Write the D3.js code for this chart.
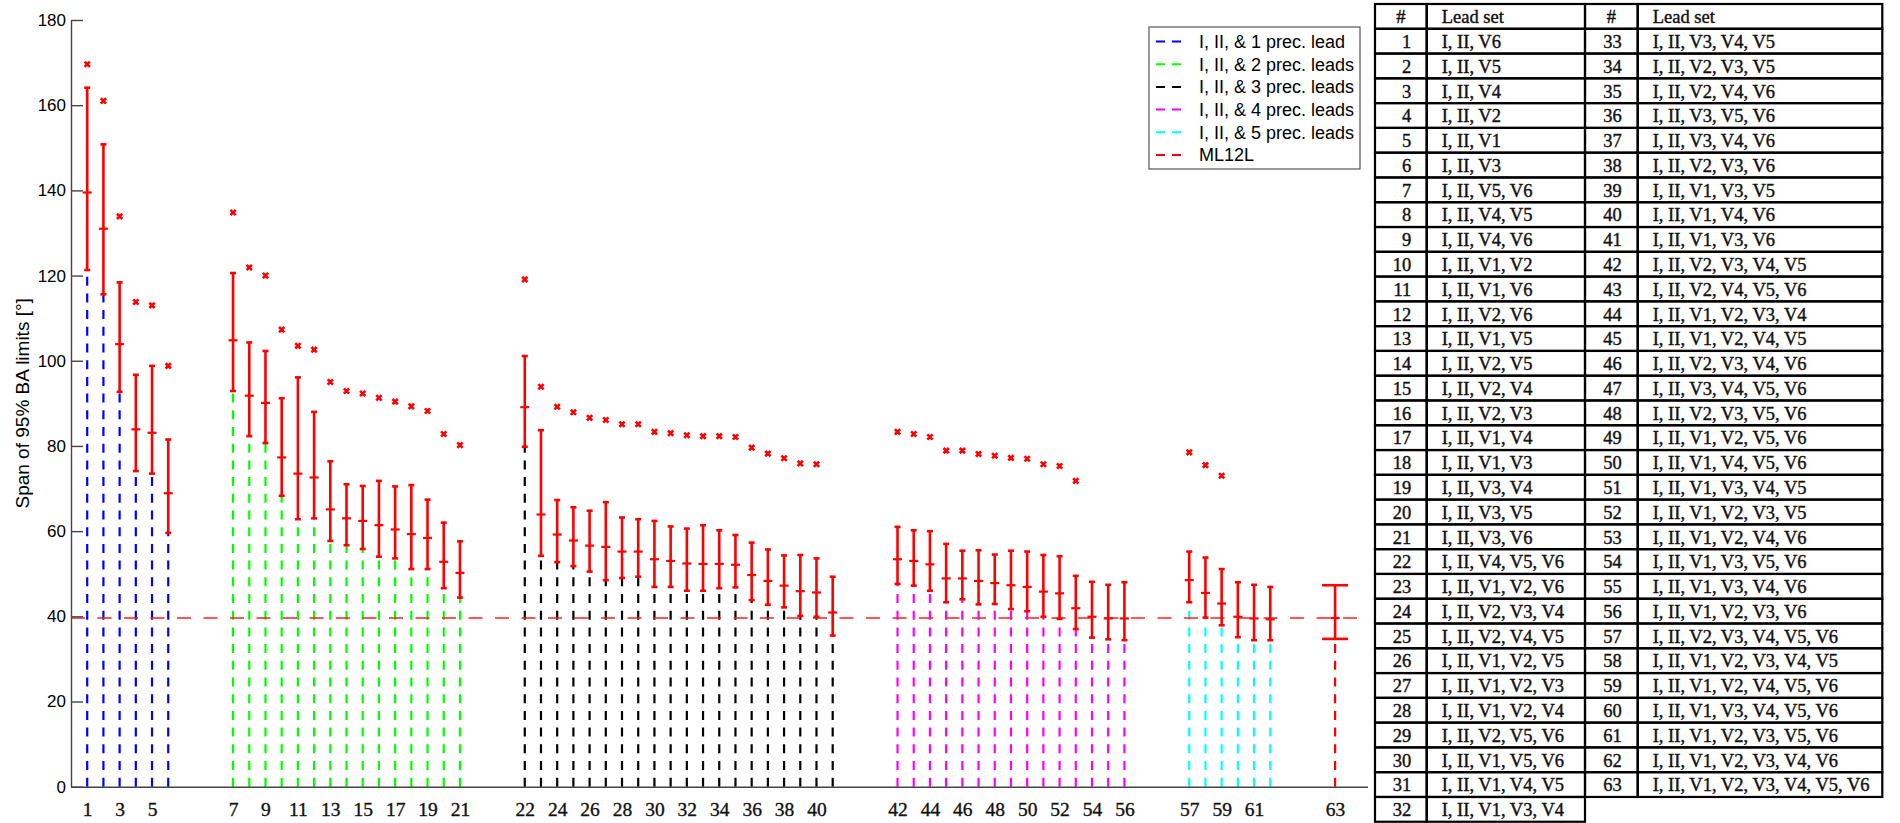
<!DOCTYPE html>
<html lang="en">
<head>
<meta charset="UTF-8" />
<title>Span of 95% BA limits by lead set</title>
<script src="https://d3js.org/d3.v7.min.js"></script>
<style>
  body { margin: 0; background: #fff; }
  svg { display: block; }
</style>
</head>
<body>

<svg width="1900" height="823"></svg>

<script>
// lead sets are grouped by how many precordial leads go with I and II
const groupSizes  = [6, 15, 20, 15, 6, 1];
const groupNames  = ["I, II, & 1 prec. lead", "I, II, & 2 prec. leads", "I, II, & 3 prec. leads",
                     "I, II, & 4 prec. leads", "I, II, & 5 prec. leads", "ML12L"];
const groupColors = ["#0000ff", "#00ff00", "#000000", "#ff00ff", "#00ffff", "#ff0000"];

// span of the 95% BA limits per lead set (1..63)
const upper = [164.1, 150.8, 118.4, 96.7, 98.8, 81.5,
  120.6, 104.3, 102.3, 91.2, 96.1, 88.0, 76.4, 71.0, 70.6, 71.8, 70.5, 70.8, 67.4, 62.0, 57.6,
  101.1, 83.7, 67.3, 65.6, 64.8, 66.8, 63.2, 62.8, 62.4, 61.1, 60.6, 61.4, 60.2, 59.1, 57.3, 55.7, 54.3, 54.4, 53.6, 49.3,
  61.0, 60.2, 60.0, 57.0, 55.4, 55.5, 54.5, 55.4, 55.2, 54.4, 54.1, 49.5, 48.1, 47.4, 48.0,
  55.2, 53.8, 51.1, 48.0, 47.4, 46.9,
  47.3];
const mean = [139.5, 131.0, 103.9, 83.9, 83.1, 68.9,
  104.8, 91.8, 90.1, 77.3, 73.5, 72.6, 65.1, 63.0, 62.4, 61.4, 60.4, 59.3, 58.4, 52.8, 50.2,
  89.1, 63.9, 59.2, 57.8, 56.6, 56.3, 55.2, 55.2, 53.4, 53.0, 52.4, 52.3, 52.3, 52.1, 49.7, 48.3, 47.2, 45.9, 45.6, 40.9,
  53.4, 53.0, 52.2, 48.9, 48.9, 48.3, 47.8, 47.3, 46.9, 45.8, 45.4, 41.9, 39.9, 39.5, 39.5,
  48.5, 45.5, 43.0, 39.9, 39.5, 39.3,
  39.6];
const lower = [121.3, 115.6, 92.7, 74.1, 73.5, 59.6,
  92.9, 82.3, 80.7, 68.3, 62.8, 63.0, 57.7, 56.7, 55.8, 54.0, 53.6, 51.1, 51.1, 46.6, 44.4,
  79.8, 54.2, 52.7, 51.8, 50.5, 48.5, 49.0, 49.3, 46.9, 46.9, 46.0, 46.0, 46.6, 46.8, 43.8, 42.7, 42.1, 40.1, 39.9, 35.5,
  47.6, 47.2, 46.0, 43.3, 44.0, 42.8, 42.9, 41.7, 41.2, 39.9, 39.4, 37.0, 35.0, 34.6, 34.4,
  43.3, 39.7, 37.9, 35.1, 34.4, 34.4,
  34.7];
const maxSpan = [169.6, 161.0, 133.9, 113.8, 113.0, 98.8,
  134.8, 121.9, 120.0, 107.3, 103.5, 102.6, 95.0, 92.9, 92.3, 91.3, 90.4, 89.3, 88.2, 82.8, 80.2,
  119.1, 93.9, 89.2, 87.9, 86.6, 86.1, 85.1, 85.1, 83.3, 83.0, 82.5, 82.3, 82.3, 82.1, 79.6, 78.2, 77.1, 75.9, 75.7, null,
  83.3, 82.8, 82.1, 78.9, 78.9, 78.1, 77.7, 77.2, 77.0, 75.7, 75.3, 71.8, null, null, null,
  78.5, 75.5, 73.0, null, null, null,
  null];
const ml12lMean = 39.6;

const yTicks = [0, 20, 40, 60, 80, 100, 120, 140, 160, 180];
const xTickItems = [1, 3, 5, 7, 9, 11, 13, 15, 17, 19, 21,
  22, 24, 26, 28, 30, 32, 34, 36, 38, 40,
  42, 44, 46, 48, 50, 52, 54, 56,
  57, 59, 61, 63];

const leadSets = [
  "I, II, V6", "I, II, V5", "I, II, V4", "I, II, V2", "I, II, V1", "I, II, V3",
  "I, II, V5, V6", "I, II, V4, V5", "I, II, V4, V6", "I, II, V1, V2", "I, II, V1, V6",
  "I, II, V2, V6", "I, II, V1, V5", "I, II, V2, V5", "I, II, V2, V4", "I, II, V2, V3",
  "I, II, V1, V4", "I, II, V1, V3", "I, II, V3, V4", "I, II, V3, V5", "I, II, V3, V6",
  "I, II, V4, V5, V6", "I, II, V1, V2, V6", "I, II, V2, V3, V4", "I, II, V2, V4, V5",
  "I, II, V1, V2, V5", "I, II, V1, V2, V3", "I, II, V1, V2, V4", "I, II, V2, V5, V6",
  "I, II, V1, V5, V6", "I, II, V1, V4, V5", "I, II, V1, V3, V4", "I, II, V3, V4, V5",
  "I, II, V2, V3, V5", "I, II, V2, V4, V6", "I, II, V3, V5, V6", "I, II, V3, V4, V6",
  "I, II, V2, V3, V6", "I, II, V1, V3, V5", "I, II, V1, V4, V6", "I, II, V1, V3, V6",
  "I, II, V2, V3, V4, V5", "I, II, V2, V4, V5, V6", "I, II, V1, V2, V3, V4",
  "I, II, V1, V2, V4, V5", "I, II, V2, V3, V4, V6", "I, II, V3, V4, V5, V6",
  "I, II, V2, V3, V5, V6", "I, II, V1, V2, V5, V6", "I, II, V1, V4, V5, V6",
  "I, II, V1, V3, V4, V5", "I, II, V1, V2, V3, V5", "I, II, V1, V2, V4, V6",
  "I, II, V1, V3, V5, V6", "I, II, V1, V3, V4, V6", "I, II, V1, V2, V3, V6",
  "I, II, V2, V3, V4, V5, V6", "I, II, V1, V2, V3, V4, V5", "I, II, V1, V2, V4, V5, V6",
  "I, II, V1, V3, V4, V5, V6", "I, II, V1, V2, V3, V5, V6", "I, II, V1, V2, V3, V4, V6",
  "I, II, V1, V2, V3, V4, V5, V6"];

const SANS = "'Liberation Sans', Arial, Helvetica, sans-serif";
const SERIF = "'Liberation Serif', 'Times New Roman', serif";

// item -> group index and slot on the x axis (3 empty slots between groups)
const groupOf = [];
groupSizes.forEach((n, gi) => { for (let k = 0; k < n; k++) groupOf.push(gi); });
const slotOf = item => item + 3 * groupOf[item - 1];

const data = upper.map((u, i) => ({
  item: i + 1, group: groupOf[i], upper: u, mean: mean[i], lower: lower[i], max: maxSpan[i]
}));

const svg = d3.select("svg");
svg.append("rect").attr("width", 1900).attr("height", 823).attr("fill", "#fff");

const x = d3.scaleLinear().domain([0, 80]).range([71, 1367.5]);
const y = d3.scaleLinear().domain([0, 180]).range([786.7, 20]);

const plot = svg.append("g");

// dashed stems from 0 up to the lower limit
plot.selectAll("line.stem")
  .data(data)
  .enter()
  .append("line")
  .attr("class", "stem")
  .attr("x1", d => x(slotOf(d.item)))
  .attr("x2", d => x(slotOf(d.item)))
  .attr("y1", y(0))
  .attr("y2", d => y(d.lower))
  .attr("stroke", d => groupColors[d.group])
  .attr("stroke-width", 2.2)
  .attr("stroke-dasharray", "9,7.7");

// ML12L reference line
plot.append("line")
  .attr("x1", x(0)).attr("x2", x(80))
  .attr("y1", y(ml12lMean)).attr("y2", y(ml12lMean))
  .attr("stroke", "#ff2020")
  .attr("stroke-width", 1.5)
  .attr("stroke-dasharray", "14,12.5");

// error bars
const bars = plot.selectAll("g.bar")
  .data(data)
  .enter()
  .append("g")
  .attr("class", "bar")
  .attr("stroke", "#ff0000")
  .attr("stroke-width", 2.6);

bars.append("line")
  .attr("x1", d => x(slotOf(d.item))).attr("x2", d => x(slotOf(d.item)))
  .attr("y1", d => y(d.lower)).attr("y2", d => y(d.upper));

const capHalf = d => d.group === 5 ? 13 : 3;
["upper", "lower"].forEach(key => {
  bars.append("line")
    .attr("x1", d => x(slotOf(d.item)) - capHalf(d))
    .attr("x2", d => x(slotOf(d.item)) + capHalf(d))
    .attr("y1", d => y(d[key])).attr("y2", d => y(d[key]));
});

bars.append("line")
  .attr("stroke-width", 2.2)
  .attr("x1", d => x(slotOf(d.item)) - 4.5)
  .attr("x2", d => x(slotOf(d.item)) + 4.5)
  .attr("y1", d => y(d.mean)).attr("y2", d => y(d.mean));

// max markers
plot.selectAll("path.max")
  .data(data.filter(d => d.max !== null))
  .enter()
  .append("path")
  .attr("class", "max")
  .attr("d", d3.symbol(d3.symbolTimes, 20))
  .attr("transform", d => `translate(${x(slotOf(d.item))},${y(d.max)})`)
  .attr("fill", "none")
  .attr("stroke", "#ff0000")
  .attr("stroke-width", 2.6);

// Y axis
const yAxis = svg.append("g")
  .attr("transform", `translate(${x(0)},0)`)
  .call(d3.axisLeft(y).tickValues(yTicks).tickSizeInner(-12).tickSizeOuter(0).tickPadding(5));
yAxis.selectAll("text").attr("font-family", SANS).attr("font-size", 17).attr("fill", "#000");
yAxis.selectAll("path, line").attr("stroke", "#444").attr("stroke-width", 1.4);

svg.append("text")
  .attr("transform", "rotate(-90)")
  .attr("x", -(y(0) + y(180)) / 2)
  .attr("y", 22)
  .attr("dy", "0.35em")
  .attr("text-anchor", "middle")
  .attr("font-family", SANS)
  .attr("font-size", 19)
  .text("Span of 95% BA limits [°]");

// X axis
const xAxis = svg.append("g")
  .attr("transform", `translate(0,${y(0)})`)
  .call(d3.axisBottom(x)
    .tickValues(xTickItems.map(slotOf))
    .tickFormat((s, i) => xTickItems[i])
    .tickSize(0)
    .tickPadding(15));
xAxis.selectAll("text")
  .attr("font-family", SERIF).attr("font-size", 19.5).attr("fill", "#111")
  .attr("stroke", "#111").attr("stroke-width", 0.35);
xAxis.select("path").attr("stroke", "#444").attr("stroke-width", 1.6);

// legend
const legend = svg.append("g").attr("transform", "translate(1149,27)");
legend.append("rect")
  .attr("width", 211).attr("height", 142)
  .attr("fill", "#fff").attr("stroke", "#555").attr("stroke-width", 1.2);
const entries = legend.selectAll("g.entry")
  .data(groupNames)
  .enter()
  .append("g")
  .attr("class", "entry")
  .attr("transform", (d, i) => `translate(0,${14.5 + i * 22.7})`);
entries.append("line")
  .attr("x1", 7).attr("x2", 35)
  .attr("stroke", (d, i) => groupColors[i])
  .attr("stroke-width", 2)
  .attr("stroke-dasharray", "9,7");
entries.append("text")
  .attr("x", 50)
  .attr("dy", "0.36em")
  .attr("font-family", SANS)
  .attr("font-size", 18)
  .text(d => d);

// lead set table
const tbl = svg.append("g");
const rowH = 24.78, tableTop = 4;
const colX = [1375, 1426.7, 1585, 1637.7, 1882.3];
const half = 32;
const rows = [];
rows.push({ r: 0, side: 0, num: "#", lead: "Lead set", header: true });
rows.push({ r: 0, side: 1, num: "#", lead: "Lead set", header: true });
leadSets.forEach((s, i) => {
  const side = i < half ? 0 : 1;
  rows.push({ r: side === 0 ? i + 1 : i - half + 1, side, num: String(i + 1), lead: s, header: false });
});

rows.forEach(d => {
  const x0 = colX[d.side * 2], x1 = colX[d.side * 2 + 1], x2 = colX[d.side * 2 + 2];
  const yTop = tableTop + d.r * rowH;
  tbl.append("rect").attr("x", x0).attr("y", yTop).attr("width", x1 - x0).attr("height", rowH)
    .attr("fill", "none").attr("stroke", "#000").attr("stroke-width", 2.2);
  tbl.append("rect").attr("x", x1).attr("y", yTop).attr("width", x2 - x1).attr("height", rowH)
    .attr("fill", "none").attr("stroke", "#000").attr("stroke-width", 2.2);
  const base = yTop + rowH / 2 + 6.8;
  tbl.append("text")
    .attr("x", d.header ? (x0 + x1) / 2 : (x0 + x1) / 2 + 10.5)
    .attr("y", base)
    .attr("text-anchor", d.header ? "middle" : "end")
    .attr("font-family", SERIF).attr("font-size", 18.5).attr("fill", "#111")
    .attr("stroke", "#111").attr("stroke-width", 0.4)
    .text(d.num);
  tbl.append("text")
    .attr("x", x1 + 15)
    .attr("y", base)
    .attr("font-family", SERIF).attr("font-size", 18.5).attr("fill", "#111")
    .attr("stroke", "#111").attr("stroke-width", 0.4)
    .text(d.lead);
});
</script>

</body>
</html>
